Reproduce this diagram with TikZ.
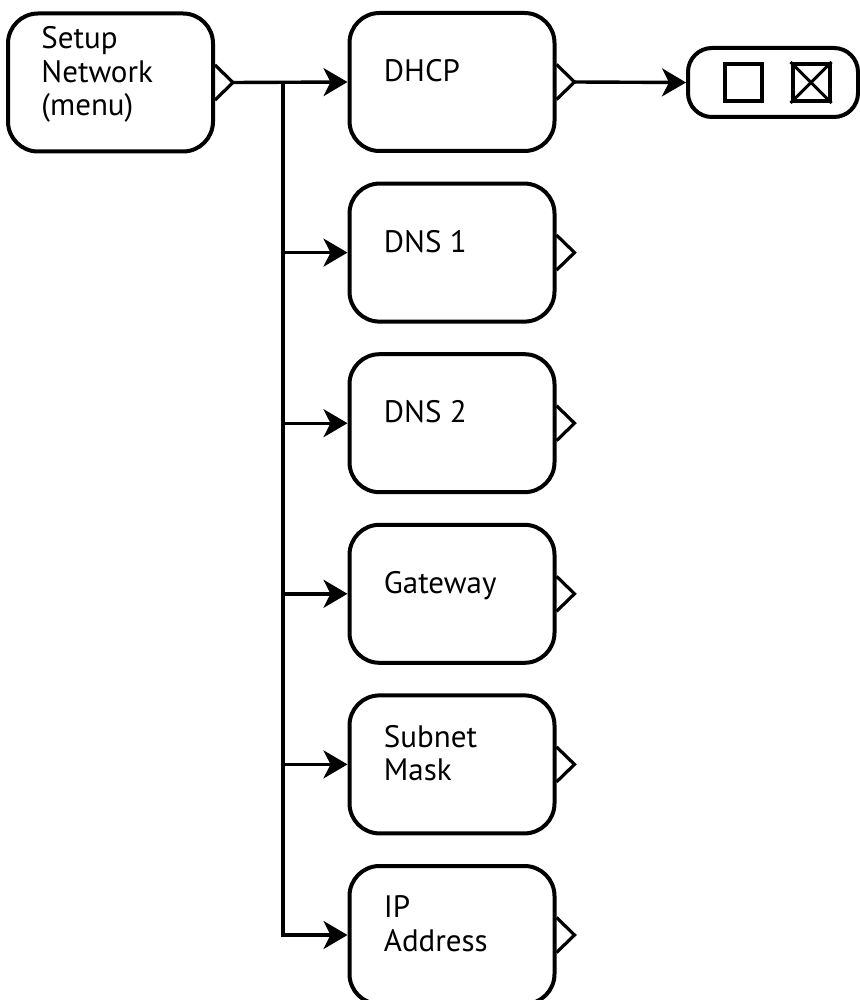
\documentclass[tikz,border=0pt]{standalone}
\usepackage{fontspec}
\setmainfont{PT Sans}
\usetikzlibrary{calc}
\usetikzlibrary{arrows.meta}

\tikzset{
  menubox/.style={draw, line width=2pt, rounded corners=15pt,
    minimum width=102.5pt, minimum height=69pt, inner sep=0pt},
  boxtext/.style={anchor=west, align=left, inner sep=0pt,
    font=\fontsize{15.5}{16.8}\selectfont},
  link/.style={line width=1.7pt, -{Stealth[length=12pt,width=14pt,inset=3.5pt]}},
  pointer/.style={line width=1.6pt, line join=miter}
}

\begin{document}
\begin{tikzpicture}[x=0.5pt, y=-0.5pt]
    \useasboundingbox (0,0) rectangle (860,1000);

    % boxes
    \node at (110.5,82.5) [menubox] (setup) {};
    \node at (452,82) [menubox] (dhcp) {};
    \foreach \name/\ii in {dns1/1,dns2/2,gate/3,mask/4,ip/5}
    	{\node at (452,82+170.6*\ii) [menubox] (\name) {};}
    \node at (773,82.5) [menubox, minimum width=85pt, minimum height=34.5pt,
      rounded corners=12pt] (choice) {};

    % texts
    \node [boxtext] (setuptxt) at ($(setup.west)+(35,-7)$) {\strut Setup\\\strut Network\\\strut (menu)};
    \node [boxtext] (dhcptxt) at ($(dhcp.west)+(36,-7)$) {\strut DHCP};
    \node [boxtext] (dns1txt) at ($(dns1.west)+(36,-7)$) {\strut DNS 1};
    \node [boxtext] (dns2txt) at ($(dns2.west)+(36,-7)$) {\strut DNS 2};
    \node [boxtext] (gatetxt) at ($(gate.west)+(36,-7)$) {\strut Gateway};
    \node [boxtext] (masktxt) at ($(mask.west)+(36,-7)$) {\strut Subnet\\\strut Mask};
    \node [boxtext] (iptxt) at ($(ip.west)+(36,-7)$) {\strut IP\\\strut Address};

    % check boxes
    \node at (743.5,82.5) [draw, line width=2pt, minimum size=18.5pt, inner sep=0pt] (off) {};
    \node at (811,82.5) [draw, line width=2pt, minimum size=18.5pt, inner sep=0pt] (on) {};
    \draw [line width=1.5pt] (on.north west) -- (on.south east);
    \draw [line width=1.5pt] (on.south west) -- (on.north east);

    % submenu pointers
    \foreach \name in {setup,dhcp,dns1,dns2,gate,mask,ip}
    	{\draw [pointer] ($(\name.east)+(0,-17.5)$) -- ($(\name.east)+(18,0)$)
    	  coordinate (\name tip) -- ($(\name.east)+(0,17.5)$);}

    % connectors
    \coordinate (trunk) at (283,82);
    \draw [link] (setuptip) -- (dhcp.west);
    \draw [link] (dhcptip) -- (choice.west);
    \draw [link] (trunk) |- (ip.west);
    \foreach \name in {dns1,dns2,gate,mask}
    	{\draw [link] (trunk |- \name.west) -- (\name.west);}

\end{tikzpicture}
\end{document}
